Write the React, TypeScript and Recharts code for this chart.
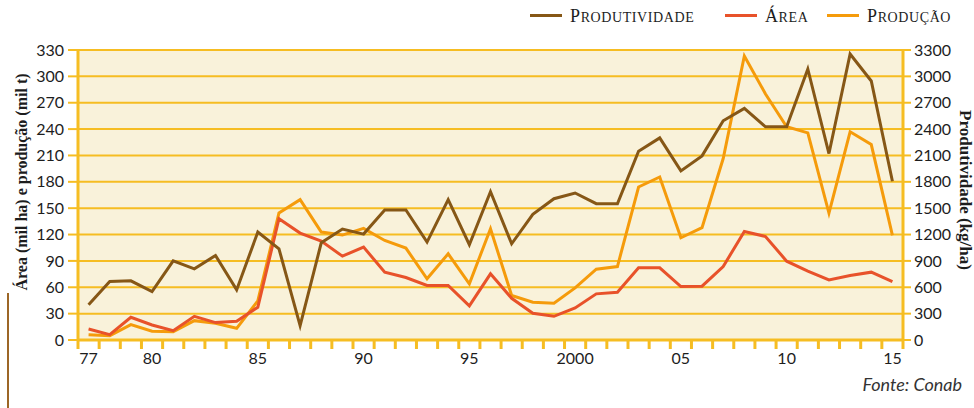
import { LineChart, Line, XAxis, YAxis, CartesianGrid } from 'recharts';

const years = [
  1977, 1978, 1979, 1980, 1981, 1982, 1983, 1984, 1985, 1986,
  1987, 1988, 1989, 1990, 1991, 1992, 1993, 1994, 1995, 1996,
  1997, 1998, 1999, 2000, 2001, 2002, 2003, 2004, 2005, 2006,
  2007, 2008, 2009, 2010, 2011, 2012, 2013, 2014, 2015,
];

// kg/ha (eixo direito)
const produtividade = [
  400, 665, 673, 550, 900, 810, 962, 570, 1228, 1038,
  163, 1106, 1262, 1205, 1479, 1479, 1114, 1597, 1084, 1688,
  1095, 1430, 1608, 1673, 1551, 1551, 2148, 2300, 1924, 2095,
  2494, 2635, 2426, 2426, 3084, 2122, 3255, 2947, 1806,
];

// mil ha (eixo esquerdo)
const area = [
  12.5, 6.1, 25.9, 17.1, 10.6, 27, 19.8, 21.3, 37.3, 138,
  121.7, 112.5, 95.4, 105.7, 77.2, 71.1, 62, 62, 38.8, 75.3,
  47.5, 30.4, 27, 36.5, 52.5, 54.4, 82.1, 82.1, 60.8, 61.2,
  83.6, 123.5, 117.8, 89.7, 78.3, 68.4, 73.4, 77.2, 66.5,
];

// mil t (eixo esquerdo)
const producao = [
  6.1, 4.9, 17.5, 9.9, 9.5, 22, 19, 13.3, 44.5, 144.5,
  159.7, 122.8, 119.4, 127, 113.3, 104.6, 69.6, 98.1, 63.9, 126.6,
  50.6, 43, 41.8, 59.3, 80.6, 83.6, 174.1, 185.5, 116.3, 127.8,
  206.5, 323.2, 280, 242.6, 235.7, 144.5, 236.9, 222.4, 119,
];

const xLabels: Record<number, string> = {
  1977: '77', 1980: '80', 1985: '85', 1990: '90', 1995: '95',
  2000: '2000', 2005: '05', 2010: '10', 2015: '15',
};

const leftTicks = [0, 30, 60, 90, 120, 150, 180, 210, 240, 270, 300, 330];
const rightTicks = [0, 300, 600, 900, 1200, 1500, 1800, 2100, 2400, 2700, 3000, 3300];

const data = years.map((year, i) => ({
  year,
  produtividade: produtividade[i],
  area: area[i],
  producao: producao[i],
}));

const GOLD = '#F6BD22';
const BROWN = '#865716';
const RED = '#E8522A';
const ORANGE = '#F59B0B';
const INK = '#1d1d1d';

const W = 974;
const H = 408;
const LEFT_W = 78;
const RIGHT_W = 71;
const HALF_BAND = (W - LEFT_W - RIGHT_W) / years.length / 2;

function YearTick(props: any) {
  const { x, y, payload } = props;
  const label = xLabels[payload.value];
  const last = payload.value === years[years.length - 1];
  return (
    <g>
      <line x1={x - HALF_BAND} x2={x - HALF_BAND} y1={y} y2={y + 9} stroke={GOLD} strokeWidth={3} />
      {last && (
        <line x1={x + HALF_BAND} x2={x + HALF_BAND} y1={y} y2={y + 9} stroke={GOLD} strokeWidth={3} />
      )}
      {label && (
        <text x={x} y={y + 24} textAnchor="middle" fontSize={16} fontFamily="Lato" fill={INK}>
          {label}
        </text>
      )}
    </g>
  );
}

const legendItems = [
  { name: 'Produtividade', color: BROWN, left: 530 },
  { name: 'Área', color: RED, left: 725 },
  { name: 'Produção', color: ORANGE, left: 827 },
];

export default function App() {
  const tickStyle = { fontSize: 16, fontFamily: 'Lato', fill: INK };
  return (
    <div style={{ position: 'absolute', left: 0, top: 0, width: W, height: H, background: '#fff', overflow: 'hidden' }}>
      <LineChart width={W} height={H} data={data} margin={{ top: 50, right: 0, bottom: 0, left: 0 }}>
        <CartesianGrid
          yAxisId="left"
          vertical={false}
          stroke={GOLD}
          strokeWidth={2}
          fill="#F9F2DA"
          fillOpacity={1}
        />
        <XAxis
          dataKey="year"
          type="number"
          domain={[1976.5, 2015.5]}
          ticks={years}
          interval={0}
          height={68}
          tickLine={false}
          tickSize={0}
          tickMargin={0}
          axisLine={{ stroke: GOLD, strokeWidth: 3 }}
          tick={<YearTick />}
        />
        <YAxis
          yAxisId="left"
          width={LEFT_W}
          domain={[0, 330]}
          ticks={leftTicks}
          interval={0}
          tickSize={10}
          tickMargin={4}
          tickLine={{ stroke: GOLD, strokeWidth: 2 }}
          axisLine={{ stroke: GOLD, strokeWidth: 3 }}
          tick={tickStyle}
        />
        <YAxis
          yAxisId="right"
          orientation="right"
          width={RIGHT_W}
          domain={[0, 3300]}
          ticks={rightTicks}
          interval={0}
          tickSize={8}
          tickMargin={3}
          tickLine={{ stroke: GOLD, strokeWidth: 2 }}
          axisLine={{ stroke: GOLD, strokeWidth: 3 }}
          tick={tickStyle}
        />
        <Line yAxisId="left" dataKey="producao" stroke={ORANGE} strokeWidth={3} dot={false} activeDot={false} isAnimationActive={false} />
        <Line yAxisId="left" dataKey="area" stroke={RED} strokeWidth={3} dot={false} activeDot={false} isAnimationActive={false} />
        <Line yAxisId="right" dataKey="produtividade" stroke={BROWN} strokeWidth={3} dot={false} activeDot={false} isAnimationActive={false} />
      </LineChart>

      {legendItems.map((it) => (
        <div
          key={it.name}
          style={{ position: 'absolute', left: it.left, top: 6, display: 'flex', alignItems: 'baseline', whiteSpace: 'nowrap' }}
        >
          <span style={{ display: 'inline-block', width: 32, height: 3, background: it.color, marginRight: 8, position: 'relative', top: -5 }} />
          <span style={{ fontFamily: '"Liberation Serif"', fontSize: 18, letterSpacing: 0.6, color: INK }}>
            {it.name.charAt(0).toUpperCase()}
          </span>
          <span style={{ fontFamily: '"Liberation Serif"', fontSize: 14, letterSpacing: 0.6, color: INK }}>
            {it.name.slice(1).toUpperCase()}
          </span>
        </div>
      ))}

      <div
        style={{
          position: 'absolute', left: 22, top: 182, transform: 'translate(-50%, -50%) rotate(-90deg)',
          whiteSpace: 'nowrap', fontFamily: '"Liberation Serif"', fontWeight: 'bold', fontSize: 16, color: INK,
        }}
      >
        Área (mil ha) e produção (mil t)
      </div>
      <div
        style={{
          position: 'absolute', left: 965, top: 190, transform: 'translate(-50%, -50%) rotate(90deg)',
          whiteSpace: 'nowrap', fontFamily: '"Liberation Serif"', fontWeight: 'bold', fontSize: 17, color: INK,
        }}
      >
        Produtividade (kg/ha)
      </div>
      <div style={{ position: 'absolute', left: 7, top: 293, width: 2, height: 115, background: '#9C6626' }} />
      <div
        style={{
          position: 'absolute', right: 12, top: 373, fontFamily: 'Lato', fontStyle: 'italic', fontSize: 18, color: '#333',
        }}
      >
        Fonte: Conab
      </div>
    </div>
  );
}
